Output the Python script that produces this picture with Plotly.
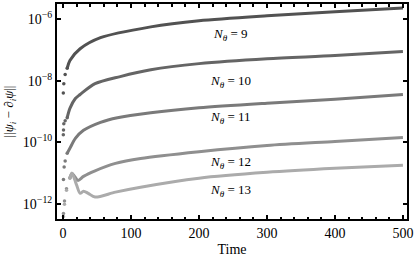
import plotly.graph_objects as go

# Time samples and log10 of the error norm for each N_theta
t9 = [0.3, 1, 3, 6, 10, 25, 55, 129, 200, 300, 400, 500]
y9 = [-8.4, -8.1, -7.8, -7.6, -7.35, -6.97, -6.61, -6.26, -6.06, -5.90, -5.77, -5.65]

t10 = [0.3, 0.6, 1, 3, 6, 10, 18, 25, 47, 84, 129, 200, 300, 400, 500]
y10 = [-9.75, -9.6, -9.4, -9.3, -9.2, -8.9, -8.58, -8.45, -8.1, -7.87, -7.65, -7.45, -7.29, -7.19, -7.06]

t11 = [0.5, 1.5, 3, 6, 10, 18, 30, 55, 80, 129, 200, 300, 400, 500]
y11 = [-11.2, -10.8, -10.6, -10.35, -10.19, -9.87, -9.61, -9.35, -9.2, -9.04, -8.88, -8.73, -8.6, -8.45]

t12 = [0.5, 2, 5, 10, 13, 17, 22, 30, 47, 77, 114, 200, 300, 400, 500]
y12 = [-12.3, -11.9, -11.5, -11.15, -11.0, -11.1, -11.23, -11.1, -10.92, -10.68, -10.52, -10.3, -10.1, -9.97, -9.84]

t13 = [0.5, 2, 5, 10, 13, 17, 20, 25, 30, 37, 47, 77, 114, 200, 300, 400, 500]
y13 = [-12.4, -12.0, -11.55, -11.15, -11.0, -11.2, -11.39, -11.65, -11.58, -11.65, -11.77, -11.61, -11.45, -11.16, -10.97, -10.84, -10.74]

labels = ["9", "10", "11", "12", "13"]
label_t = [246, 246, 246, 246, 246]
label_y = [-6.51, -8.03, -9.21, -10.64, -11.57]

xticks = [0, 100, 200, 300, 400, 500]
yticks = [-12, -10, -8, -6]
ytick_text = ["10<sup>−12</sup>", "10<sup>−10</sup>", "10<sup>−8</sup>", "10<sup>−6</sup>"]

colors = ["#525252", "#656565", "#7a7a7a", "#8f8f8f", "#ababab"]
series = [(t9, y9), (t10, y10), (t11, y11), (t12, y12), (t13, y13)]
n_dots = [3, 4, 3, 3, 3]  # leading samples shown as separate dots

FONT = "Liberation Serif"

fig = go.Figure()
for (tt, yy), c, nd in zip(series, colors, n_dots):
    vals = [10 ** v for v in yy]
    fig.add_trace(go.Scatter(
        x=tt[:nd + 1], y=vals[:nd + 1], mode="markers",
        marker=dict(color=c, size=3.5),
        showlegend=False, hoverinfo="skip"))
    fig.add_trace(go.Scatter(
        x=tt[nd:], y=vals[nd:], mode="lines",
        line=dict(color=c, width=3, shape="spline", smoothing=0.8),
        showlegend=False, hoverinfo="skip"))

for lab, lt, ly in zip(labels, label_t, label_y):
    fig.add_annotation(
        x=lt, y=ly, xref="x", yref="y", showarrow=False,
        text="<i>N<sub>θ</sub></i> = " + lab,
        font=dict(family=FONT, size=13, color="black"))

axis_common = dict(
    showline=True, linecolor="black", linewidth=2, mirror="ticks",
    ticks="inside", tickcolor="black", ticklen=4, tickwidth=1.5,
    showgrid=False, zeroline=False,
    tickfont=dict(family=FONT, size=14, color="black"),
)

fig.update_layout(
    width=415, height=260,
    margin=dict(l=57, r=8, t=2, b=41),
    paper_bgcolor="white", plot_bgcolor="white",
    xaxis=dict(range=[-9, 506], tickvals=xticks,
               minor=dict(ticks="inside", ticklen=2.5, tickcolor="black", dtick=20, tick0=0, showgrid=False),
               title=dict(text="Time", font=dict(family=FONT, size=14, color="black"), standoff=4),
               **axis_common),
    yaxis=dict(type="log", range=[-12.48, -5.52],
               tickvals=[10 ** v for v in yticks], ticktext=ytick_text,
               title=dict(text="||<i>ψ<sub>i</sub></i> − ∂<sub><i>i</i></sub><i>ψ</i>||",
                          font=dict(family=FONT, size=13, color="black"), standoff=6),
               **axis_common),
)

fig.write_html("out.html", config={"displayModeBar": False},
               post_script="document.body.style.margin='0';")
